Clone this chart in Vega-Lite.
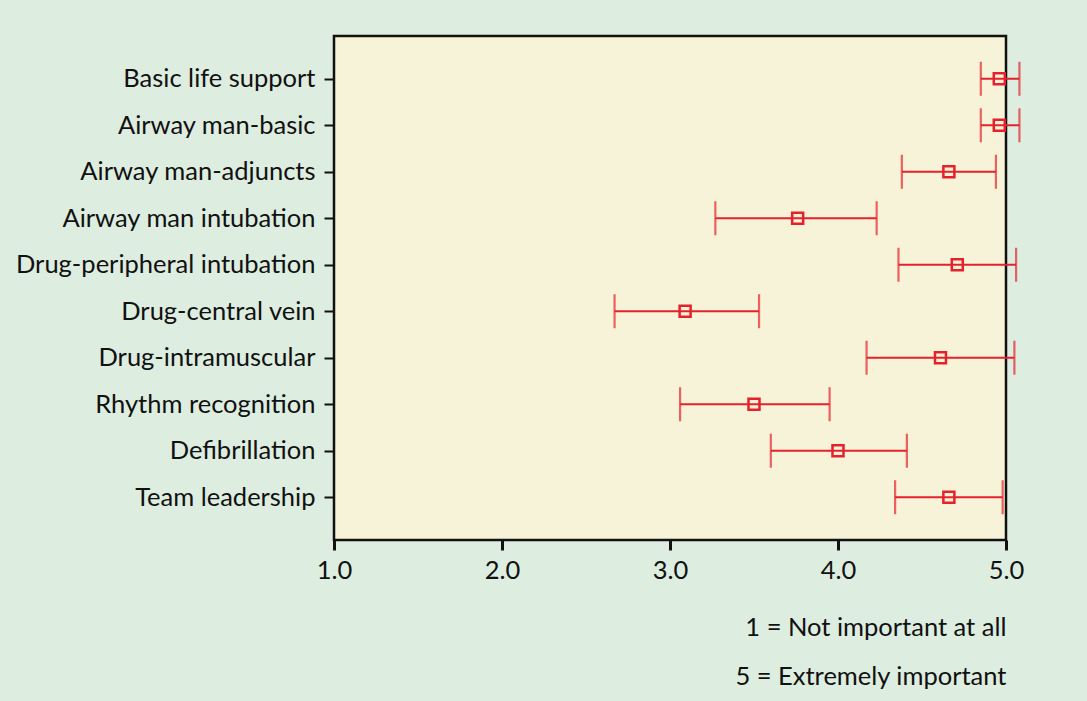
{
  "$schema": "https://vega.github.io/schema/vega-lite/v6.json",
  "autosize": {"type": "none"},
  "padding": {"left": 334, "top": 36, "right": 81, "bottom": 161},
  "width": 672,
  "height": 504,
  "background": "#ddede0",
  "data": {
    "values": [
      {"item": "Basic life support", "mean": 4.96, "lo": 4.85, "hi": 5.08},
      {"item": "Airway man-basic", "mean": 4.96, "lo": 4.85, "hi": 5.08},
      {"item": "Airway man-adjuncts", "mean": 4.66, "lo": 4.38, "hi": 4.94},
      {"item": "Airway man intubation", "mean": 3.76, "lo": 3.27, "hi": 4.23},
      {"item": "Drug-peripheral intubation", "mean": 4.71, "lo": 4.36, "hi": 5.06},
      {"item": "Drug-central vein", "mean": 3.09, "lo": 2.67, "hi": 3.53},
      {"item": "Drug-intramuscular", "mean": 4.61, "lo": 4.17, "hi": 5.05},
      {"item": "Rhythm recognition", "mean": 3.5, "lo": 3.06, "hi": 3.95},
      {"item": "Defibrillation", "mean": 4.0, "lo": 3.6, "hi": 4.41},
      {"item": "Team leadership", "mean": 4.66, "lo": 4.34, "hi": 4.98}
    ]
  },
  "encoding": {
    "y": {
      "field": "item",
      "type": "nominal",
      "sort": null,
      "scale": {"type": "point", "padding": 0.92},
      "axis": {
        "title": null,
        "domain": false,
        "grid": false,
        "tickSize": 10,
        "tickWidth": 2,
        "tickColor": "#111111",
        "labelFont": "Lato",
        "labelFontSize": 25.5,
        "labelColor": "#111111",
        "labelPadding": 9,
        "labelLimit": 400
      }
    }
  },
  "layer": [
    {
      "mark": {"type": "rule", "color": "#e5222c", "strokeWidth": 2.2},
      "encoding": {
        "x": {
          "field": "lo",
          "type": "quantitative",
          "scale": {"domain": [1, 5], "nice": false, "zero": false},
          "axis": {
            "values": [1, 2, 3, 4, 5],
            "format": ".1f",
            "domain": false,
            "grid": false,
            "tickSize": 10,
            "tickWidth": 3,
            "tickColor": "#111111",
            "labelFont": "Lato",
            "labelFontSize": 25.5,
            "labelColor": "#111111",
            "labelPadding": 8,
            "labelFlush": false,
            "title": ["1 = Not important at all", "5 = Extremely important"],
            "titleFont": "Lato",
            "titleFontSize": 25.5,
            "titleFontWeight": "normal",
            "titleColor": "#111111",
            "titleAnchor": "end",
            "titleAlign": "right",
            "titleLineHeight": 48.5,
            "titlePadding": 32
          }
        },
        "x2": {"field": "hi"}
      }
    },
    {
      "mark": {"type": "tick", "color": "#e5222c", "thickness": 2.2, "size": 34},
      "encoding": {"x": {"field": "lo", "type": "quantitative"}}
    },
    {
      "mark": {"type": "tick", "color": "#e5222c", "thickness": 2.2, "size": 34},
      "encoding": {"x": {"field": "hi", "type": "quantitative"}}
    },
    {
      "mark": {"type": "point", "shape": "square", "filled": false, "size": 121, "strokeWidth": 2.5, "color": "#e5222c", "opacity": 1},
      "encoding": {"x": {"field": "mean", "type": "quantitative"}}
    }
  ],
  "config": {
    "view": {"fill": "#f7f3d8", "stroke": "#111111", "strokeWidth": 2.5}
  }
}
